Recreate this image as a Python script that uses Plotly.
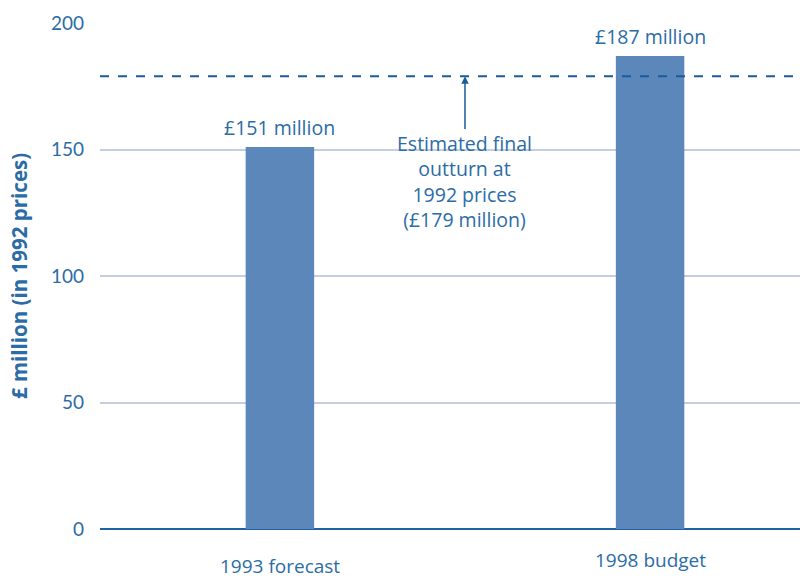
import plotly.graph_objects as go

categories = ["1993 forecast", "1998 budget"]
values = [151, 187]
bar_labels = ["£151 million", "£187 million"]
final_outturn = 179
outturn_text = "Estimated final<br>outturn at<br>1992 prices<br>(£179 million)"
y_ticks = [0, 50, 100, 150, 200]

TXT = "#2b6ca6"
FONT = "Lato"
TFONT = "Open Sans"
xpos = list(range(len(categories)))

fig = go.Figure()
fig.add_trace(go.Bar(x=xpos, y=values, width=0.185, marker=dict(color="#5b87ba", line=dict(width=0)),
                     hoverinfo="skip"))

# dashed final outturn line
fig.add_shape(type="line", xref="paper", x0=0, x1=1, yref="y", y0=final_outturn, y1=final_outturn,
              line=dict(color="#1a5c9b", width=2, dash="dash"), layer="above")

# bar value labels
for x, v, t in zip(xpos, values, bar_labels):
    fig.add_annotation(x=x, y=v, text=t, showarrow=False, yanchor="bottom", yshift=5, borderpad=0,
                       font=dict(family=TFONT, size=19.5, color=TXT))

# category labels
cat_shift = [-37, -31]
for x, c, s in zip(xpos, categories, cat_shift):
    fig.add_annotation(x=x, y=0, text=c, showarrow=False, yanchor="middle", yshift=s, borderpad=0,
                       font=dict(family=TFONT, size=19, color=TXT))

# outturn note and arrow
fig.add_annotation(x=0.5, y=158, text=outturn_text, showarrow=False, yanchor="top", align="center",
                   borderpad=0, font=dict(family=TFONT, size=19.5, color=TXT))
fig.add_annotation(x=0.5, y=final_outturn, ax=0.5, ay=157.5, axref="x", ayref="y", text="",
                   showarrow=True, arrowhead=2, arrowsize=1, arrowwidth=1.5, arrowcolor="#1a5c9b")

fig.update_layout(
    width=805, height=578,
    margin=dict(l=100, r=5, t=23, b=49),
    plot_bgcolor="white", paper_bgcolor="white",
    showlegend=False,
    font=dict(family=FONT, color=TXT),
    xaxis=dict(range=[-0.486, 1.405], showticklabels=False, showgrid=False, zeroline=False, fixedrange=True),
    yaxis=dict(range=[0, 200], tickvals=y_ticks, showgrid=True, gridcolor="#c3cfe0", gridwidth=1.5,
               zeroline=True, zerolinecolor="#1f62a3", zerolinewidth=2,
               ticks="", ticklabelstandoff=15, tickfont=dict(family=FONT, size=19, color=TXT),
               title=dict(text="<b>£ million (in 1992 prices)</b>", standoff=17,
                          font=dict(family=TFONT, size=20.5, color=TXT))),
)

fig.write_html("out.html")
